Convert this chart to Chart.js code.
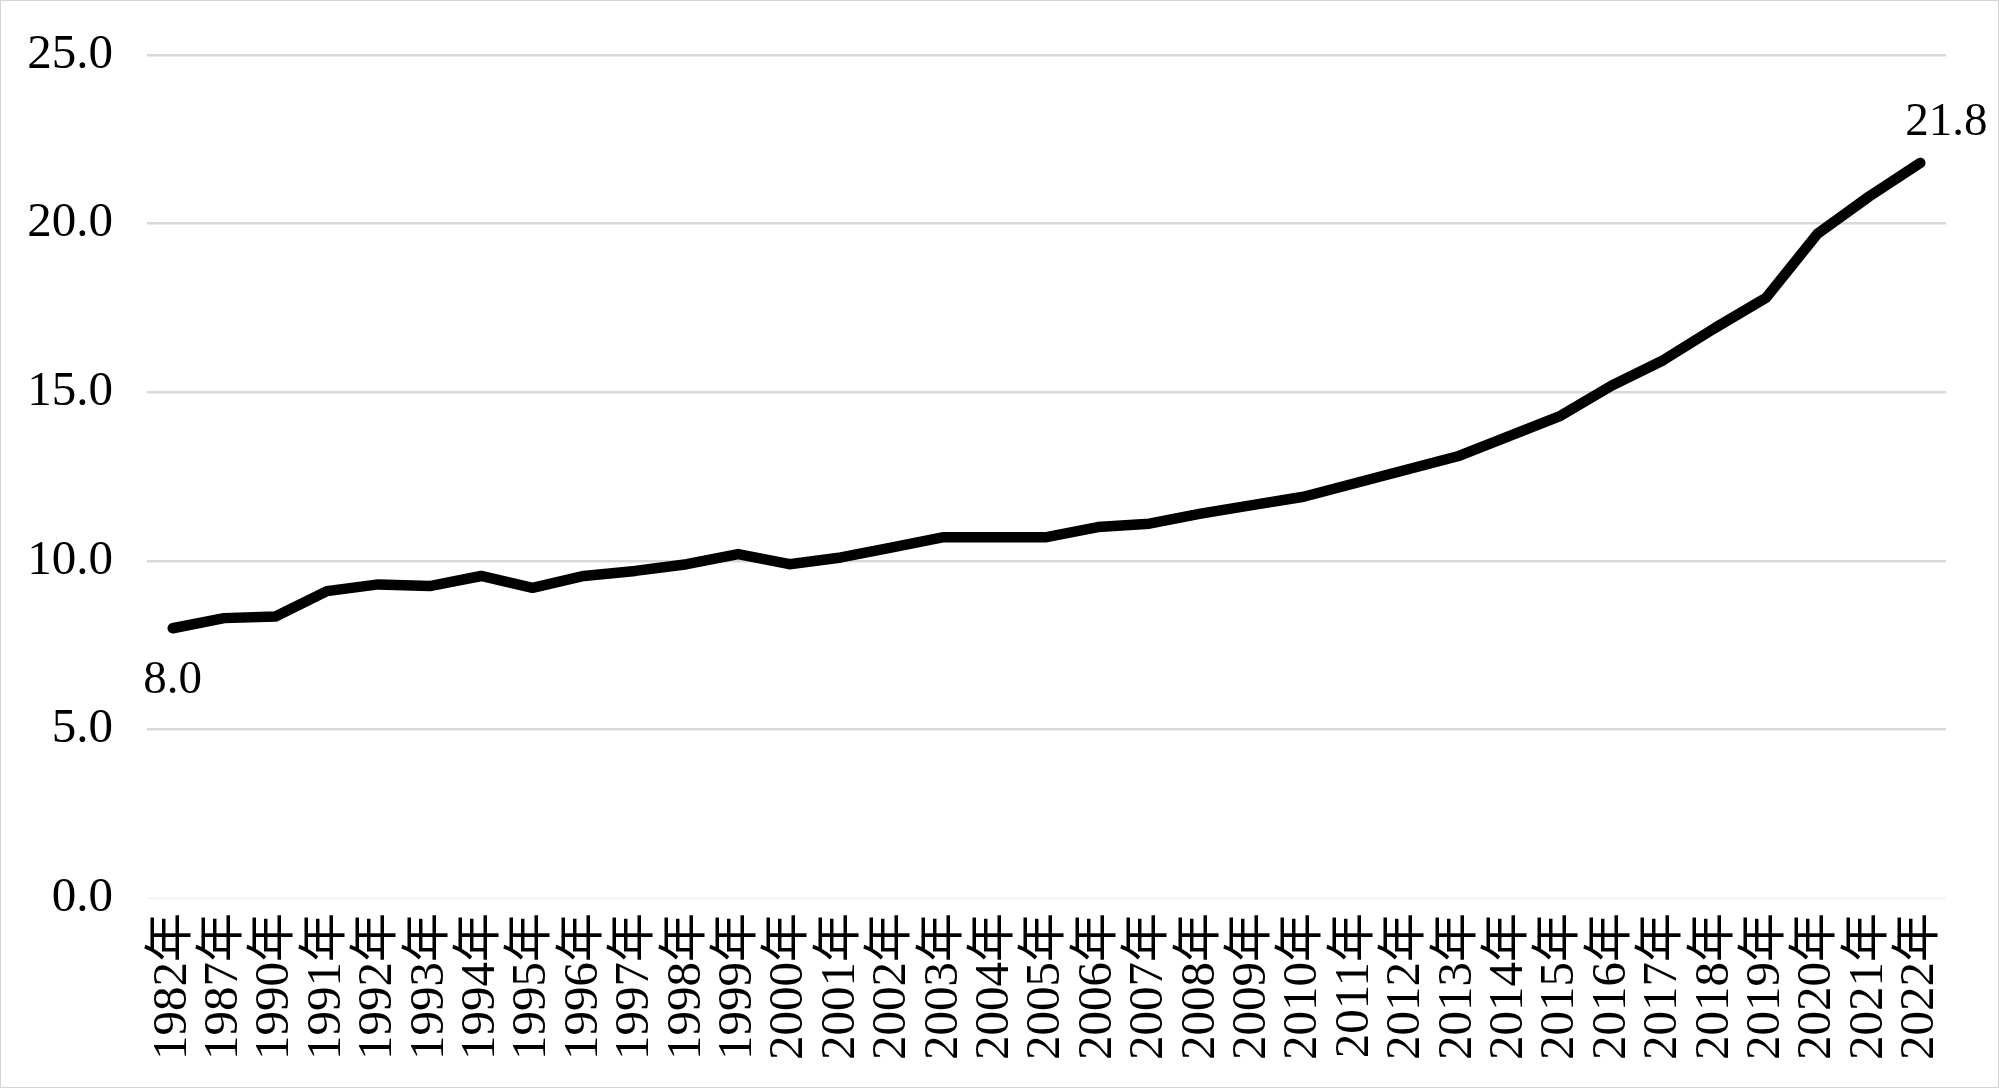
<!DOCTYPE html>
<html>
<head>
<meta charset="utf-8">
<script src="https://cdn.jsdelivr.net/npm/chart.js@4/dist/chart.umd.min.js"></script>
<style>
  html, body { margin: 0; padding: 0; background: #fff; }
  #wrap { width: 1999px; height: 1088px; box-sizing: border-box; border: 1px solid #d4d4d4; }
  canvas { display: block; }
</style>
</head>
<body>
<div id="wrap"><canvas id="myLineChart" width="1997" height="1086"></canvas></div>
<script>
const years = ['1982年','1987年','1990年','1991年','1992年','1993年','1994年','1995年','1996年','1997年',
  '1998年','1999年','2000年','2001年','2002年','2003年','2004年','2005年','2006年','2007年',
  '2008年','2009年','2010年','2011年','2012年','2013年','2014年','2015年','2016年','2017年',
  '2018年','2019年','2020年','2021年','2022年'];
const valores = [8.0, 8.3, 8.35, 9.1, 9.3, 9.25, 9.55, 9.2, 9.55, 9.7,
  9.9, 10.2, 9.9, 10.1, 10.4, 10.7, 10.7, 10.7, 11.0, 11.1,
  11.4, 11.65, 11.9, 12.3, 12.7, 13.1, 13.7, 14.3, 15.2, 15.95,
  16.9, 17.8, 19.7, 20.8, 21.8];
const yTicks = [0, 5, 10, 15, 20, 25];

const serif = "'Liberation Serif', 'Noto Sans CJK SC', serif";
const ctx = document.getElementById('myLineChart').getContext('2d');

// etiquetas del primer y ultimo punto
const etiquetas = {
  id: 'etiquetas',
  afterDatasetsDraw(chart) {
    const pts = chart.getDatasetMeta(0).data;
    const c = chart.ctx;
    c.save();
    c.font = '47px ' + serif;
    c.fillStyle = '#000';
    c.textAlign = 'center';
    c.textBaseline = 'middle';
    const first = pts[0], last = pts[pts.length - 1];
    c.fillText(valores[0].toFixed(1), first.x, first.y + 52);
    c.fillText(valores[valores.length - 1].toFixed(1), last.x + 26, last.y - 40);
    c.restore();
  }
};

new Chart(ctx, {
  type: 'line',
  data: {
    labels: years,
    datasets: [{
      data: valores,
      borderColor: '#000',
      borderWidth: 10.5,
      borderCapStyle: 'round',
      borderJoinStyle: 'round',
      pointRadius: 0,
      tension: 0,
      fill: false
    }]
  },
  options: {
    responsive: false,
    animation: false,
    layout: { padding: { top: 54, right: 52, left: 0, bottom: 0 } },
    plugins: { legend: { display: false }, tooltip: { enabled: false } },
    scales: {
      x: {
        offset: true,
        grid: { display: false, drawTicks: false },
        border: { display: false },
        ticks: {
          color: '#000',
          font: { family: serif, size: 49 },
          minRotation: 90,
          maxRotation: 90,
          autoSkip: false,
          padding: 15
        },
        afterFit(scale) { scale.height = 1086 - 897; }
      },
      y: {
        min: 0,
        max: 25,
        afterBuildTicks(scale) { scale.ticks = yTicks.map(v => ({ value: v })); },
        grid: {
          drawTicks: false,
          lineWidth: 2.5,
          color: (c) => c.tick && c.tick.value === 0 ? '#f6f6f6' : '#d9d9d9'
        },
        border: { display: false },
        ticks: {
          color: '#000',
          font: { family: serif, size: 49 },
          padding: 34,
          callback: (v) => Number(v).toFixed(1)
        },
        afterFit(scale) {
          scale.width = 146;
          scale.paddingTop = 0;
          scale.paddingBottom = 0;
        }
      }
    }
  },
  plugins: [etiquetas]
});
</script>
</body>
</html>
